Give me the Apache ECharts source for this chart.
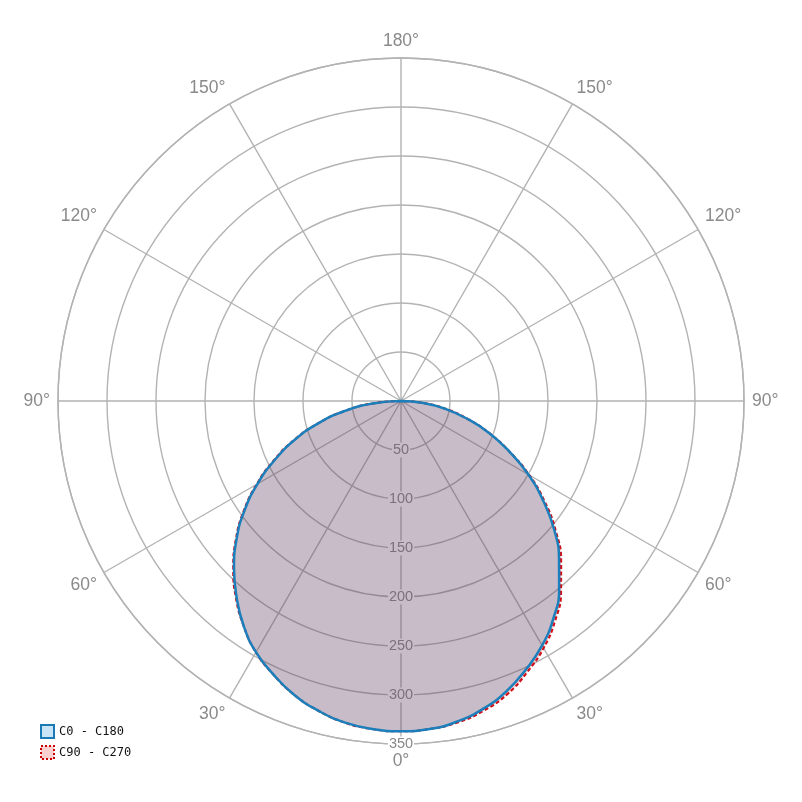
<!DOCTYPE html>
<html>
<head>
<meta charset="utf-8">
<script src="https://cdn.jsdelivr.net/npm/echarts@6/dist/echarts.min.js"></script>
<style>html,body{margin:0;padding:0;background:#fff}#c{width:802px;height:802px}</style>
</head>
<body>
<div id="c"></div>
<script>
// gamma angles (degrees from nadir) and intensity values (cd) per C-plane half
const gammas = [0,5,10,15,20,25,30,35,40,45,50,55,60,65,70,75,80,85,90];
const c0   = [337,336,332,325,315,302,288,271,251,228,204,177,150,122,96,70,46,23,0];
const c180 = [337,336,333,327,319,308,296,280,261,241,219,195,169,142,115,87,58,29,0];
const c90  = [337,336,333,327,318,305,291,274,254,231,206,179,151,122,96,70,46,23,0];
const c270 = [337,336,333,327,319,308,296,280,262,242,220,196,170,143,116,87,58,29,0];
const radiusTicks = [0,50,100,150,200,250,300,350];
const seriesNames = ['C0 - C180','C90 - C270'];

function buildLoop(rightVals, leftVals){
  const out = [];
  for (let i = gammas.length - 1; i >= 1; i--) out.push([leftVals[i], 360 - gammas[i]]);
  for (let i = 0; i < gammas.length; i++) out.push([rightVals[i], gammas[i]]);
  return out;
}

const chart = echarts.init(document.getElementById('c'));
const grid = '#b3b3b3';
chart.setOption({
  animation: false,
  backgroundColor: '#fff',
  polar: { center: ['50%', '50%'], radius: 343 },
  angleAxis: {
    type: 'value', min: 0, max: 360, interval: 30,
    startAngle: 270, clockwise: false,
    axisLine: { show: true, lineStyle: { color: grid, width: 1.4 } },
    axisTick: { show: false },
    splitLine: { show: true, lineStyle: { color: grid, width: 1.4 } },
    axisLabel: {
      color: '#8a8a8a', fontSize: 17.5, fontFamily: 'Liberation Sans, Arial, sans-serif', margin: 8,
      formatter: v => v === 360 ? '' : (v <= 180 ? v : 360 - v) + '°'
    }
  },
  radiusAxis: {
    type: 'value', min: radiusTicks[0], max: radiusTicks[radiusTicks.length-1], interval: 50,
    axisLine: { show: false }, axisTick: { show: false },
    splitLine: { show: true, lineStyle: { color: grid, width: 1.4 } },
    axisLabel: {
      color: '#8a8a8a', fontSize: 14.5, fontFamily: 'Liberation Sans, Arial, sans-serif',
      margin: 0, align: 'center', verticalAlign: 'middle', rotate: 0,
      backgroundColor: '#fff', padding: [0, 1],
      formatter: v => v === 0 ? '' : String(v)
    }
  },
  legend: {
    orient: 'vertical', left: 35, top: 719,
    itemWidth: 13, itemHeight: 13, itemGap: 6,
    textStyle: { fontSize: 12, color: '#111', fontFamily: 'DejaVu Sans Mono, monospace' },
    data: [
      { name: seriesNames[0], icon: 'rect', itemStyle: { color: '#c8e4f6', borderColor: '#1a7ab5', borderWidth: 2 } },
      { name: seriesNames[1], icon: 'rect', itemStyle: { color: '#f9cfcf', borderColor: '#cc0000', borderWidth: 2, borderType: 'dotted' } }
    ]
  },
  series: [
    {
      name: seriesNames[1], type: 'line', coordinateSystem: 'polar', symbol: 'none', smooth: 0.5,
      data: buildLoop(c90, c270), z: 2,
      lineStyle: { color: '#d0101a', width: 2.2, type: [4, 2.5] },
      itemStyle: { color: '#cc0000' },
      areaStyle: { color: 'rgba(200,0,0,0.2)', opacity: 1 }
    },
    {
      name: seriesNames[0], type: 'line', coordinateSystem: 'polar', symbol: 'none', smooth: 0.5,
      data: buildLoop(c0, c180), z: 3,
      lineStyle: { color: '#1a7fbb', width: 2.5 },
      itemStyle: { color: '#1a7ab5' },
      areaStyle: { color: 'rgba(31,127,191,0.2)', opacity: 1 }
    }
  ]
});
</script>
</body>
</html>
